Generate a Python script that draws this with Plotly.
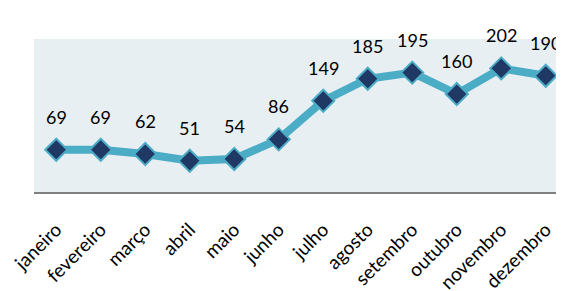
import plotly.graph_objects as go

months = ["janeiro", "fevereiro", "março", "abril", "maio", "junho",
          "julho", "agosto", "setembro", "outubro", "novembro", "dezembro"]
values = [69, 69, 62, 51, 54, 86, 149, 185, 195, 160, 202, 190]

fig = go.Figure()
fig.add_trace(go.Scatter(
    x=months, y=values, mode="lines+markers",
    line=dict(color="#4BACC6", width=8),
    marker=dict(symbol="diamond", size=17, color="#1F3864",
                line=dict(color="#4BACC6", width=2)),
    hoverinfo="x+y",
))
for m, v in zip(months, values):
    fig.add_annotation(x=m, y=v, text=str(v), showarrow=False,
                       yshift=33, font=dict(family="Lato", size=18, color="#000000"))

# page body has an 8px margin; figure is sized/offset to compensate
fig.update_layout(
    width=556, height=283,
    margin=dict(l=26, r=0, t=31, b=99),
    paper_bgcolor="white", plot_bgcolor="#E8EFF3",
    showlegend=False,
    font=dict(family="Lato", color="#000000"),
)
fig.update_xaxes(range=[-0.5, 11.41], tickangle=-45, showline=True,
                 linecolor="#808080", linewidth=2, showgrid=False, ticks="",
                 automargin=False, ticklabelstandoff=17,
                 tickfont=dict(size=19, family="Lato"))
fig.update_yaxes(range=[0, 250], showticklabels=False, showgrid=False,
                 zeroline=False, showline=False, automargin=False)
fig.write_html("out.html")
